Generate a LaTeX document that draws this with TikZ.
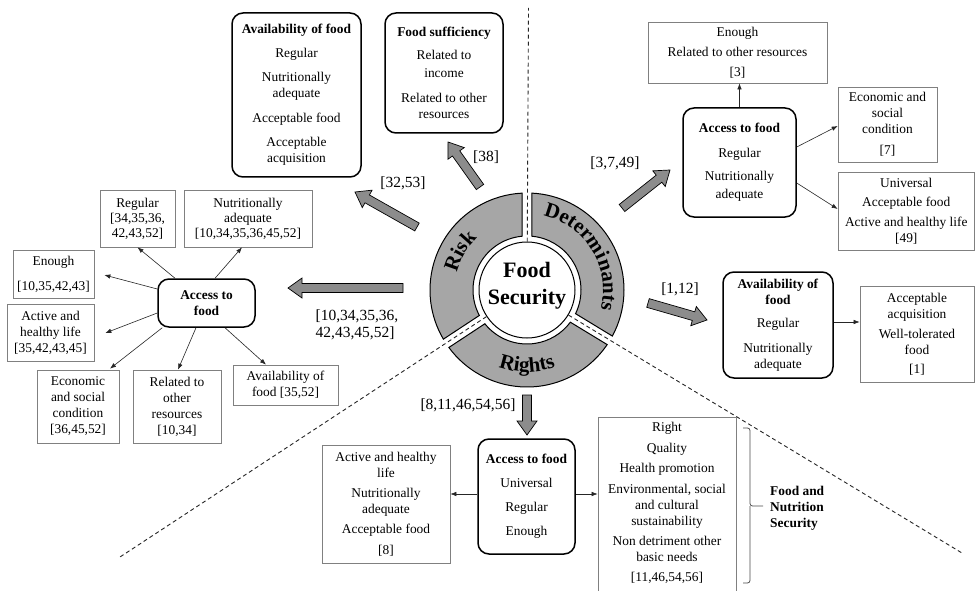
\documentclass[tikz,border=0pt]{standalone}
\usepackage{fontspec}
\setmainfont{Liberation Serif}
\usetikzlibrary{calc,arrows.meta,decorations.text}
\newcommand\bodyfont{\fontsize{13.4}{16}\selectfont}
\newcommand\lblfont{\fontsize{15.5}{17}\selectfont}
\newcommand\ringfont{\fontsize{21}{21}\selectfont\bfseries}
\newcommand\fsfont{\fontsize{22}{27}\selectfont\bfseries}
\newcommand\blockarr[2]{%
  \coordinate (ba) at ($(#2)!14pt!(#1)$);
  \path[blk] ($(#1)!4.5pt!90:(#2)$) -- ($(ba)!4.5pt!90:(#2)$) -- ($(ba)!10pt!90:(#2)$) -- (#2)
    -- ($(ba)!10pt!-90:(#2)$) -- ($(ba)!4.5pt!-90:(#2)$) -- ($(#1)!4.5pt!-90:(#2)$) -- cycle;}
\tikzset{
  rbox/.style={draw=black, rounded corners=11pt, line width=1.5pt, align=center, inner sep=0pt, font=\bodyfont},
  sbox/.style={draw=black!50, line width=0.7pt, align=center, inner sep=0pt, font=\bodyfont},
  conn/.style={-{Latex[length=6pt,width=4.5pt]}, line width=0.6pt, draw=black!85},
  lbl/.style={font=\lblfont, inner sep=0pt},
  blk/.style={fill=black!45, draw=black, line width=0.7pt},
  ringsec/.style={fill=black!35, draw=black, line width=1pt},
  dsh/.style={draw=black!85, dash pattern=on 4pt off 3pt, line width=0.9pt},
  brc/.style={draw=black!70, line width=0.8pt, rounded corners=2.5pt}
}
\begin{document}
\begin{tikzpicture}[x=1pt,y=-1pt]
\fill[white] (0,0) rectangle (975,591);
\useasboundingbox (0,0) rectangle (975,591);
\coordinate (C) at (527,290);

% dashed separators
\coordinate (dT) at (528.5,8);
\coordinate (dLL) at (120,557);
\coordinate (dLR) at (962,553);

% ring sectors
\path[ringsec] ($(C)+(272.95:97)$) arc[start angle=272.95, end angle=388.35, radius=97]
  -- ($(C)+(386.0:54)$) arc[start angle=386.0, end angle=275.3, radius=54] -- cycle;
\path[ringsec] ($(C)+(34.25:97)$) arc[start angle=34.25, end angle=143.65, radius=97]
  -- ($(C)+(141.3:54)$) arc[start angle=141.3, end angle=36.6, radius=54] -- cycle;
\path[ringsec] ($(C)+(149.55:97)$) arc[start angle=149.55, end angle=267.05, radius=97]
  -- ($(C)+(264.7:54)$) arc[start angle=264.7, end angle=151.9, radius=54] -- cycle;

\node[circle, draw=black, line width=1pt, fill=white, minimum size=96pt, inner sep=0pt] (fs) at (C) {};
\node[font=\fsfont, align=center, inner sep=0pt] (fst) at (527,285.5) {Food\\Security};

\draw[dsh] (fs) -- (dT);
\draw[dsh] (fs) -- (dLL);
\draw[dsh] (fs) -- (dLR);

% ring texts
\path[decorate, decoration={text along path, text={|\ringfont|Risk}, text align=center}]
  ($(C)+(150:72)$) arc[start angle=150, end angle=270, radius=72];
\path[decorate, decoration={text along path, text={|\ringfont|Determinants}, text align=center}]
  ($(C)+(268.5:76)$) arc[start angle=268.5, end angle=388.5, radius=76];
\path[decorate, decoration={text along path, text={|\ringfont|Rights}, text align=center}]
  ($(C)+(150:82)$) arc[start angle=150, end angle=30, radius=82];

% top boxes
\node[rbox, minimum width=129pt, minimum height=164pt] (avTL) at (296.5,95)
  {\textbf{Availability of food}\\[8pt]Regular\\[8pt]Nutritionally\\adequate\\[9pt]Acceptable food\\[8pt]Acceptable\\acquisition};
\node[rbox, minimum width=118pt, minimum height=120pt] (suff) at (444,73)
  {\textbf{Food sufficiency}\\[7pt]Related to\\[2pt]income\\[9pt]Related to other\\resources};

% right side
\node[sbox, minimum width=179pt, minimum height=61pt] (enR) at (737.5,52.5)
  {Enough\\[4pt]Related to other resources\\[4pt]{[}3]};
\node[rbox, minimum width=113pt, minimum height=109pt] (accR) at (739.5,162.5)
  {\textbf{Access to food}\\[9pt]Regular\\[7pt]Nutritionally\\[2pt]adequate};
\node[sbox, minimum width=99pt, minimum height=75pt] (econR) at (887.5,124.5)
  {Economic and\\social\\condition\\[5pt]{[}7]};
\node[sbox, minimum width=136.5pt, minimum height=78pt] (univR) at (906.25,211)
  {Universal\\[3pt]Acceptable food\\[4pt]Active and healthy life\\{[}49]};
\node[rbox, minimum width=110pt, minimum height=106pt] (avR) at (778,325)
  {\textbf{Availability of}\\\textbf{food}\\[7pt]Regular\\[9pt]Nutritionally\\adequate};
\node[sbox, minimum width=114pt, minimum height=96pt] (accqR) at (917,334)
  {Acceptable\\acquisition\\[4pt]Well-tolerated\\food\\[3pt]{[}1]};

% left side
\node[rbox, minimum width=97pt, minimum height=48pt] (accL) at (206.5,303)
  {\textbf{Access to}\\\textbf{food}};
\node[sbox, minimum width=75pt, minimum height=57pt] (regL) at (137.5,218.5)
  {Regular\\[-1pt]{[}34,35,36,\\[-1pt]42,43,52]};
\node[sbox, minimum width=128pt, minimum height=57pt] (nutL) at (248,218.5)
  {Nutritionally\\[-1pt]adequate\\[-1pt]{[}10,34,35,36,45,52]};
\node[sbox, minimum width=81pt, minimum height=48pt] (enL) at (53.5,274)
  {Enough\\[9pt]{[}10,35,42,43]};
\node[sbox, minimum width=87pt, minimum height=57pt] (actL) at (50.5,332.5)
  {Active and\\healthy life\\{[}35,42,43,45]};
\node[sbox, minimum width=82pt, minimum height=73pt] (ecoL) at (78,406.5)
  {Economic\\and social\\condition\\{[}36,45,52]};
\node[sbox, minimum width=88pt, minimum height=73pt] (relL) at (177,406.5)
  {Related to\\other\\resources\\{[}10,34]};
\node[sbox, minimum width=105pt, minimum height=40pt] (avL) at (285.5,385)
  {Availability of\\food [35,52]};

% bottom
\node[rbox, minimum width=97pt, minimum height=115pt] (accB) at (526.5,496.5)
  {\textbf{Access to food}\\[8pt]Universal\\[8pt]Regular\\[8pt]Enough};
\node[sbox, minimum width=128pt, minimum height=118pt] (actB) at (386,504)
  {Active and healthy\\life\\[4pt]Nutritionally\\adequate\\[4pt]Acceptable food\\[5pt]{[}8]};
\node[sbox, minimum width=138pt, minimum height=186pt] (rightB) at (667,510)
  {Right\\[5pt]Quality\\[4pt]Health promotion\\[5pt]Environmental, social\\and cultural\\sustainability\\[4pt]Non detriment other\\basic needs\\[4pt]{[}11,46,54,56]\\\mbox{}};
\node[font=\bodyfont\bfseries, align=left, anchor=west, inner sep=0pt] (fns) at (770,508)
  {Food and\\Nutrition\\Security};
\coordinate (brT) at (743,428);
\coordinate (brB) at (743,583);
\coordinate (brM) at (763,506);
\draw[brc] (brT) -- (750,428) -- (750,506) -- (brM);
\draw[brc] (brB) -- (750,583) -- (750,506);

% labels
\node[lbl] (l38) at (486,157) {[38]};
\node[lbl] (l3253) at (403,183) {[32,53]};
\node[lbl] (l3749) at (615,163) {[3,7,49]};
\node[lbl] (l112) at (680,289) {[1,12]};
\node[lbl, align=left] (lL) at (357,325) {[10,34,35,36,\\42,43,45,52]};
\node[lbl] (lB) at (468,405) {[8,11,46,54,56]};

% block arrows
\coordinate (tL) at (403,288); \coordinate (hL) at (288,288);
\coordinate (t38) at (480,187); \coordinate (h38) at (448,142);
\coordinate (t32) at (417,227); \coordinate (h32) at (355,192);
\coordinate (t37) at (622,208); \coordinate (h37) at (670,170);
\coordinate (t11) at (648,303); \coordinate (h11) at (707,320);
\coordinate (tB) at (527,395); \coordinate (hB) at (527,435);
\blockarr{tL}{hL}
\blockarr{t38}{h38}
\blockarr{t32}{h32}
\blockarr{t37}{h37}
\blockarr{t11}{h11}
\blockarr{tB}{hB}

% connectors left
\draw[conn] ($(accL.north)+(-31.5,0)$) -- (regL.south);
\draw[conn] ($(accL.north)+(8.5,0)$) -- ($(nutL.south)+(-6,0)$);
\draw[conn] ($(accL.west)+(0,-14)$) -- ($(enL.east)+(10,1)$);
\draw[conn] ($(accL.west)+(0,10)$) -- ($(actL.east)+(11,0.5)$);
\draw[conn] ($(accL.south west)+(5,0)$) -- ($(ecoL.north)+(32,-1)$);
\draw[conn] ($(accL.south)+(-10.5,0)$) -- ($(relL.north)+(1,0)$);
\draw[conn] ($(accL.south)+(18.5,0)$) -- ($(avL.north)+(-19.5,0)$);
% connectors right
\draw[conn] (accR.north) -- (accR.north |- enR.south);
\draw[conn] ($(accR.east)+(0,-15.5)$) -- ($(econR.west)+(0,1.5)$);
\draw[conn] ($(accR.east)+(0,20.5)$) -- ($(univR.west)+(0,-2)$);
\draw[conn] ($(avR.east)+(0,-3)$) -- ($(accqR.west)+(0,-12)$);
% connectors bottom
\draw[conn] ($(accB.west)+(0,-2.5)$) -- ($(actB.east)+(0,-10)$);
\draw[conn] ($(accB.east)+(0,-2.5)$) -- ($(rightB.west)+(0,-16)$);
\end{tikzpicture}
\end{document}
